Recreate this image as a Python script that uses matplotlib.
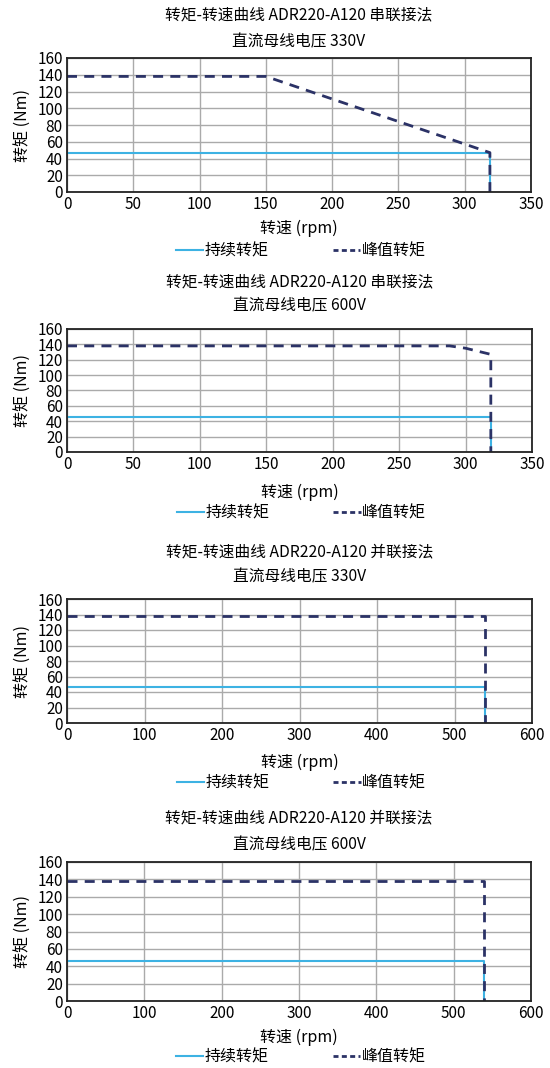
import matplotlib
matplotlib.use("Agg")
import matplotlib.pyplot as plt
from matplotlib.lines import Line2D

plt.rcParams['font.family'] = ['Noto Sans CJK SC', 'DejaVu Sans']

# data
titles = ["转矩-转速曲线 ADR220-A120 串联接法",
          "转矩-转速曲线 ADR220-A120 串联接法",
          "转矩-转速曲线 ADR220-A120 并联接法",
          "转矩-转速曲线 ADR220-A120 并联接法"]
subtitles = ["直流母线电压 330V", "直流母线电压 600V",
             "直流母线电压 330V", "直流母线电压 600V"]

cont_x = [[0, 319, 319], [0, 319, 319], [0, 539, 539], [0, 539, 539]]
cont_y = [[46, 46, 0], [46, 46, 0], [46, 46, 0], [46, 46, 0]]

peak_x = [[0, 150, 319, 319],
          [0, 288, 300, 319, 319],
          [0, 539, 539],
          [0, 539, 539]]
peak_y = [[138, 138, 47, 0],
          [138, 138, 135, 127, 0],
          [138, 138, 0],
          [138, 138, 0]]

x_max = [350, 350, 600, 600]
x_step = [50, 50, 100, 100]
y_ticks = [0, 20, 40, 60, 80, 100, 120, 140, 160]

# layout in pixels: left, top, right, bottom of axes; title/xlabel/legend y
W, H = 550, 1068
boxes = [(67, 58, 531, 192), (67, 329, 532, 452),
         (67, 599, 532, 723), (67, 862, 531, 1001)]
title_y = [(15, 42), (282, 306), (552, 577), (818, 845)]
xlabel_y = [228, 492, 762, 1037]
legend_y = [251, 513, 783, 1057]

c_cont = '#3db2e3'
c_peak = '#2b3266'
fs = 11

fig = plt.figure(figsize=(W / 100, H / 100), dpi=100)

for i in range(4):
    l, t, r, b = boxes[i]
    ax = fig.add_axes([l / W, 1 - b / H, (r - l) / W, (b - t) / H])
    ax.plot(cont_x[i], cont_y[i], color=c_cont, lw=1.5)
    ax.plot(peak_x[i], peak_y[i], color=c_peak, lw=2, linestyle=(0, (3.6, 2.6)))
    ax.set_xlim(0, x_max[i])
    ax.set_ylim(0, 160)
    ax.set_xticks(range(0, x_max[i] + 1, x_step[i]))
    ax.set_yticks(y_ticks)
    ax.grid(True, color='#aaaaaa', lw=1)
    ax.set_axisbelow(True)
    ax.tick_params(length=0, labelsize=fs, pad=3)
    for s in ax.spines.values():
        s.set_color('#222222')
        s.set_linewidth(1.3)

    cx = (l + r) / 2 / W
    fig.text(cx, 1 - title_y[i][0] / H, titles[i], ha='center', va='center', fontsize=11.3)
    fig.text(cx, 1 - title_y[i][1] / H, subtitles[i], ha='center', va='center', fontsize=11.3)
    fig.text(cx, 1 - xlabel_y[i] / H, '转速 (rpm)', ha='center', va='center', fontsize=11.5)
    fig.text(22 / W, 1 - (t + b) / 2 / H, '转矩 (Nm)', ha='center', va='center',
             rotation=90, fontsize=11.5)
    h = [Line2D([], [], color=c_cont, lw=1.5),
         Line2D([], [], color=c_peak, lw=2, linestyle=(0, (1.8, 1.2)))]
    fig.legend(h, ['持续转矩', '峰值转矩'], loc='center',
               bbox_to_anchor=(cx + 2 / W, 1 - legend_y[i] / H),
               ncol=2, frameon=False, fontsize=11.5, handlelength=1.7,
               handletextpad=0.1, columnspacing=4.0, borderpad=0)

fig.savefig('out.png', dpi=100, facecolor='white')
